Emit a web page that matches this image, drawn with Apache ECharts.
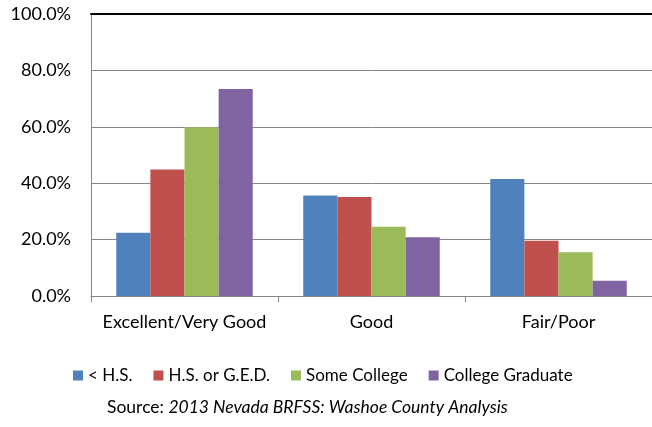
<!DOCTYPE html>
<html><head><meta charset="utf-8">
<script src="https://cdn.jsdelivr.net/npm/echarts@6/dist/echarts.min.js"></script>
<style>html,body{margin:0;padding:0;background:#fff}#c{width:652px;height:427px}</style>
</head><body><div id="c"></div>
<script>
const categories = ['Excellent/Very Good', 'Good', 'Fair/Poor'];
const seriesNames = ['< H.S.', 'H.S. or G.E.D.', 'Some College', 'College Graduate'];
const lessHS = [22.4, 35.6, 41.5];
const hsGED = [44.9, 35.1, 19.6];
const someCollege = [59.8, 24.6, 15.5];
const collegeGrad = [73.4, 20.8, 5.4];
const colors = ['#4F81BD', '#C0504D', '#9BBB59', '#8064A2'];
const values = [lessHS, hsGED, someCollege, collegeGrad];
const font = 'Lato, "Open Sans", sans-serif';

const chart = echarts.init(document.getElementById('c'));
chart.setOption({
  animation: false,
  textStyle: {fontFamily: font},
  grid: {left: 91, right: 0, top: 14, bottom: 131},
  title: {
    bottom: 6, left: 102,
    text: '{a|Source: }{b|2013 Nevada BRFSS: Washoe County Analysis}',
    textStyle: {fontWeight: 'normal', rich: {
      a: {fontFamily: font, fontSize: 17.5, color: '#000', fontWeight: 'normal'},
      b: {fontFamily: font, fontSize: 17.5, color: '#000', fontWeight: 'normal', fontStyle: 'italic'}
    }}
  },
  legend: {
    bottom: 38, left: 68, itemWidth: 10, itemHeight: 10, itemGap: 21,
    icon: 'rect',
    textStyle: {fontFamily: font, fontSize: 17, color: '#000'},
    data: seriesNames
  },
  xAxis: [{
    type: 'category', data: categories,
    axisLine: {lineStyle: {color: '#868686'}},
    axisTick: {show: true, length: 6, lineStyle: {color: '#868686'}},
    axisLabel: {interval: 0, fontFamily: font, fontSize: 18, color: '#000', margin: 17}
  }, {
    type: 'category', data: categories, position: 'top',
    axisLine: {show: true, lineStyle: {color: '#000', width: 2}},
    axisTick: {show: false}, axisLabel: {show: false}
  }],
  yAxis: {
    type: 'value', min: 0, max: 100, interval: 20,
    axisLine: {show: true, lineStyle: {color: '#868686'}},
    axisTick: {show: false},
    splitLine: {lineStyle: {color: '#868686'}},
    axisLabel: {fontFamily: font, fontSize: 18, color: '#000', margin: 20,
      formatter: v => v.toFixed(1) + '%'}
  },
  series: seriesNames.map((n, i) => ({
    name: n, type: 'bar', data: values[i], barGap: '0%', barCategoryGap: '27%',
    itemStyle: {color: colors[i]}
  }))
});
</script></body></html>
